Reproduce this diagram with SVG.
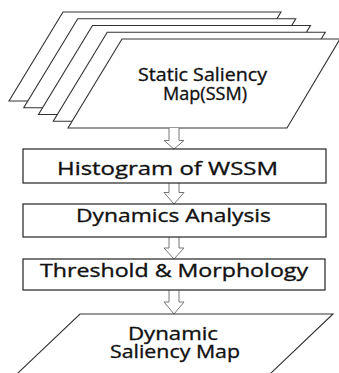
<svg xmlns="http://www.w3.org/2000/svg" width="339" height="373" viewBox="0 0 339 373">
<style>
.pg{fill:#fff;stroke:#333;stroke-width:1.1}
.box{fill:#fff;stroke:#222;stroke-width:1.2}
.arr{fill:#fff;stroke:#777;stroke-width:1}
text{font-family:"Open Sans","Noto Sans","Liberation Sans",sans-serif;font-size:18.5px;fill:#111;stroke:#111;stroke-width:0.35}
</style>
<rect width="339" height="373" fill="#fff"/>
<g id="ssm-stack">
<polygon class="pg" points="63,12 281,12 227,101 9,101"/>
<polygon class="pg" points="77.75,18.75 295.75,18.75 241.75,107.75 23.75,107.75"/>
<polygon class="pg" points="92.5,25.5 310.5,25.5 256.5,114.5 38.5,114.5"/>
<polygon class="pg" points="107.25,32.25 325.25,32.25 271.25,121.25 53.25,121.25"/>
<polygon class="pg" points="122,39 340,39 287,128 68,128"/>
<text x="138" y="81" textLength="129" lengthAdjust="spacingAndGlyphs">Static  Saliency</text>
<text x="163" y="100" textLength="84" lengthAdjust="spacingAndGlyphs">Map(SSM)</text>
</g>
<g id="connectors">
<path class="arr" d="M169,128 V140.5 H164 L174,149 L184,140.5 H179 V128"/>
<path class="arr" d="M169,183 V192.5 H164 L174,204 L184,192.5 H179 V183"/>
<path class="arr" d="M169,237 V248 H164 L174,259 L184,248 H179 V237"/>
<path class="arr" d="M169,290 V302 H164 L174,314 L184,302 H179 V290"/>
</g>
<g id="histogram">
<rect class="box" x="23" y="149" width="303" height="34"/>
<text x="57" y="175" textLength="221" lengthAdjust="spacingAndGlyphs">Histogram of WSSM</text>
</g>
<g id="dynamics">
<rect class="box" x="23" y="204" width="303" height="33"/>
<text x="76" y="222" textLength="195" lengthAdjust="spacingAndGlyphs">Dynamics Analysis</text>
</g>
<g id="threshold">
<rect class="box" x="23" y="259" width="302" height="31"/>
<text x="40" y="277" textLength="268" lengthAdjust="spacingAndGlyphs">Threshold &amp; Morphology</text>
</g>
<g id="dsm">
<polygon class="pg" points="80,314 333,314 263.7,380 10.6,380"/>
<text x="128" y="340" textLength="90" lengthAdjust="spacingAndGlyphs">Dynamic</text>
<text x="110" y="358" textLength="130" lengthAdjust="spacingAndGlyphs">Saliency Map</text>
</g>
</svg>
